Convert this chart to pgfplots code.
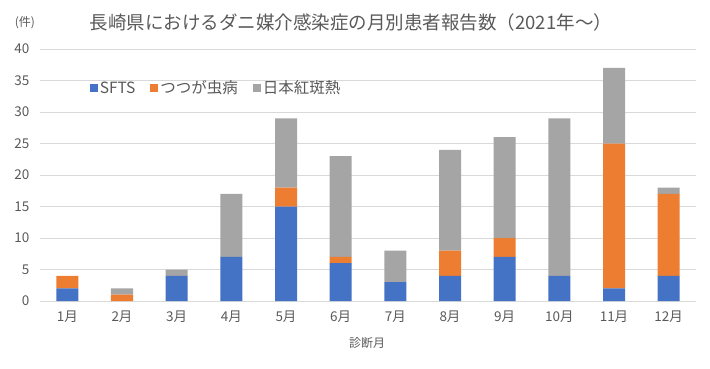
\documentclass[border=0pt]{standalone}
\usepackage{pgfplots}
\pgfplotsset{compat=1.18}
\usepackage{pgfplotstable}
\usepackage{fontspec}
\setmainfont{Noto Sans CJK JP}
\definecolor{cA}{HTML}{4472C4}
\definecolor{cB}{HTML}{ED7D31}
\definecolor{cC}{HTML}{A5A5A5}
\definecolor{txt}{HTML}{595959}
\definecolor{gridc}{HTML}{D9D9D9}
\pgfplotstableread{
x a b c
0 2 2 0
1 0 1 1
2 4 0 1
3 7 0 10
4 15 3 11
5 6 1 16
6 3 0 5
7 4 4 16
8 7 3 16
9 4 0 25
10 2 23 12
11 4 13 1
}\data
\begin{document}
\begin{tikzpicture}
\path[use as bounding box] (-40pt,-67pt) rectangle (670pt,301pt);
\begin{axis}[
  at={(0pt,0pt)}, anchor=south west,
  scale only axis, width=656pt, height=252pt,
  ybar stacked, bar width=22pt,
  xmin=-0.5, xmax=11.5, ymin=0, ymax=40,
  xtick={0,...,11},
  xticklabels={1月,2月,3月,4月,5月,6月,7月,8月,9月,10月,11月,12月},
  ytick={0,5,...,40},
  ymajorgrids, grid style={gridc, line width=0.9pt},
  axis line style={draw=none},
  major tick length=0pt,
  /pgf/number format/assume math mode=true,
  tick label style={font=\fontsize{13.5}{15}\selectfont, text=txt},
  yticklabel style={xshift=-7pt},
  xticklabel style={yshift=-6pt},
  every axis plot/.append style={draw=none, legend image code/.code={\fill[##1] (0pt,-4pt) rectangle (8pt,4pt);}},
  legend columns=3,
  legend style={draw=none, fill=none, at={(0.071,0.845)}, anchor=west,
    font=\fontsize{15.5}{17}\selectfont, text=txt,
    /tikz/every even column/.append style={column sep=13pt},
    nodes={inner xsep=2pt}},
]
\addplot[fill=cA] table[x=x,y=a]{\data};
\addplot[fill=cB] table[x=x,y=b]{\data};
\addplot[fill=cC] table[x=x,y=c]{\data};
\legend{SFTS,つつが虫病,日本紅斑熱}
\end{axis}
\node[text=txt, font=\fontsize{18.5}{20}\selectfont] at (311pt,279pt) {長崎県におけるダニ媒介感染症の月別患者報告数（2021年～）};
\node[text=txt, font=\fontsize{12}{14}\selectfont] at (-15pt,278pt) {(件)};
\node[text=txt, font=\fontsize{12}{14}\selectfont] at (327pt,-42pt) {診断月};
\end{tikzpicture}
\end{document}
